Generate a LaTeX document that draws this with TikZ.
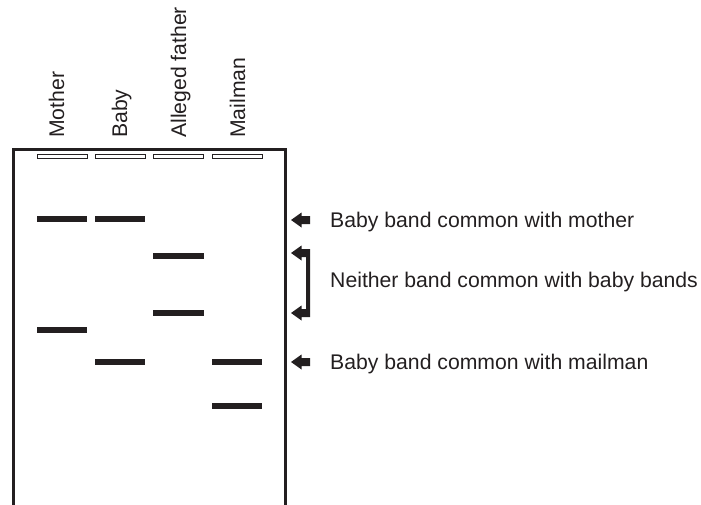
\documentclass[tikz,border=0pt]{standalone}
\usepackage{fontspec}
\setmainfont{Liberation Sans}
\definecolor{ink}{HTML}{231F20}
\begin{document}
\begin{tikzpicture}[x=1pt,y=-1pt,
  lbl/.style={inner sep=0pt,font=\fontsize{21.2}{25}\selectfont,text=ink},
  vlbl/.style={lbl,rotate=90,anchor=base west},
  hlbl/.style={lbl,anchor=base west},
  band/.style={fill=ink,draw=none},
  well/.style={draw=ink,line width=1pt,fill=white},
  blk/.style={fill=ink,draw=none}]
\useasboundingbox (0,0) rectangle (701,505);
% gel outline (open at bottom)
\draw[ink,line width=3pt,line join=miter] (13.5,506) -- (13.5,150) -- (285.5,150) -- (285.5,506);
% wells
\foreach \x in {37,95,153,212}{
  \draw[well] (\x,155) rectangle ++(50,4);
}
% lane labels
\node[vlbl] (lm) at (64,138) {Mother};
\node[vlbl] (lb) at (127,138) {Baby};
\node[vlbl] (la) at (186,138) {Alleged father};
\node[vlbl] (lp) at (245,138) {Mailman};
% bands: mother
\fill[band] (37,216) rectangle (87,222);
\fill[band] (37,327) rectangle (87,333);
% baby
\fill[band] (95,216) rectangle (145,222);
\fill[band] (95,359) rectangle (145,365);
% alleged father
\fill[band] (153,253) rectangle (204,259);
\fill[band] (153,310) rectangle (204,316);
% mailman
\fill[band] (212,359) rectangle (262,365);
\fill[band] (212,403) rectangle (262,409);
% arrows
\fill[blk] (291,220) -- (301.5,212.5) -- (301.5,216) -- (310,216) -- (310,224) -- (301.5,224) -- (301.5,227.5) -- cycle;
\fill[blk] (291,362) -- (301.5,354.5) -- (301.5,358) -- (310,358) -- (310,366) -- (301.5,366) -- (301.5,369.5) -- cycle;
\fill[blk] (291,253) -- (301.5,245.5) -- (301.5,249) -- (310,249) -- (310,317) -- (301.5,317) -- (301.5,320.5)
  -- (291,313) -- (301.5,305.5) -- (301.5,309) -- (306,309) -- (306,257) -- (301.5,257) -- (301.5,260.5) -- cycle;
% texts
\node[hlbl] (t1) at (330,227) {Baby band common with mother};
\node[hlbl] (t2) at (330,287) {Neither band common with baby bands};
\node[hlbl] (t3) at (330,369) {Baby band common with mailman};
\end{tikzpicture}
\end{document}
